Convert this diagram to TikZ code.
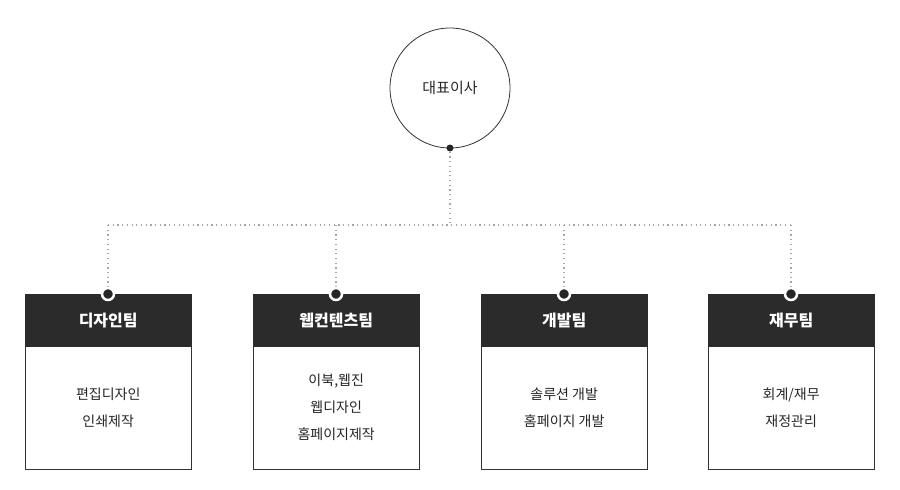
\documentclass[tikz,border=0pt]{standalone}
\usepackage{fontspec}
\newfontfamily\cjk{Noto Sans CJK KR}
\begin{document}
\begin{tikzpicture}[x=1pt,y=-1pt,
  dot/.style={line width=1.2pt,draw=gray!70,dash pattern=on 1.2pt off 3.5pt},
  head/.style={fill=black!83,draw=black!83,minimum width=166pt,minimum height=52pt,anchor=north west,inner sep=0pt,text=white,font=\cjk\bfseries\fontsize{16}{18}\selectfont},
  body/.style={draw=black!80,fill=white,minimum width=166pt,minimum height=123pt,anchor=north west,inner sep=0pt,align=center,font=\cjk\fontsize{14}{27}\selectfont,text=black!85},
  pin/.style={circle,fill=black!85,draw=white,line width=2.5pt,minimum size=12pt,inner sep=0pt}]
\useasboundingbox (0,0) rectangle (900,490);
\node[circle,draw=black!80,line width=0.8pt,minimum size=120pt,font=\cjk\fontsize{15}{18}\selectfont,text=black!85] (ceo) at (450,88) {대표이사};
\node[circle,fill=black!85,minimum size=7pt,inner sep=0pt] (cd) at (450,148) {};
\coordinate (j) at (450,225);
\draw[dot] (cd) -- (j);
\foreach \x/\n/\t/\b in {25/a/디자인팀/{편집디자인\\인쇄제작},253/b/웹컨텐츠팀/{이북,웹진\\웹디자인\\홈페이지제작},481/c/개발팀/{솔루션 개발\\홈페이지 개발},708/d/재무팀/{회계/재무\\재정관리}}{
  \node[body] (\n b) at (\x,346) {\b};
  \node[head] (\n h) at (\x,294) {\t};
  \coordinate (\n t) at (\x+83,225);
  \draw[dot] (\n t) -- (\x+83,292);
  \node[pin] (\n p) at (\x+83,294) {};
}
\draw[dot] (at) -- (dt);
\end{tikzpicture}
\end{document}
